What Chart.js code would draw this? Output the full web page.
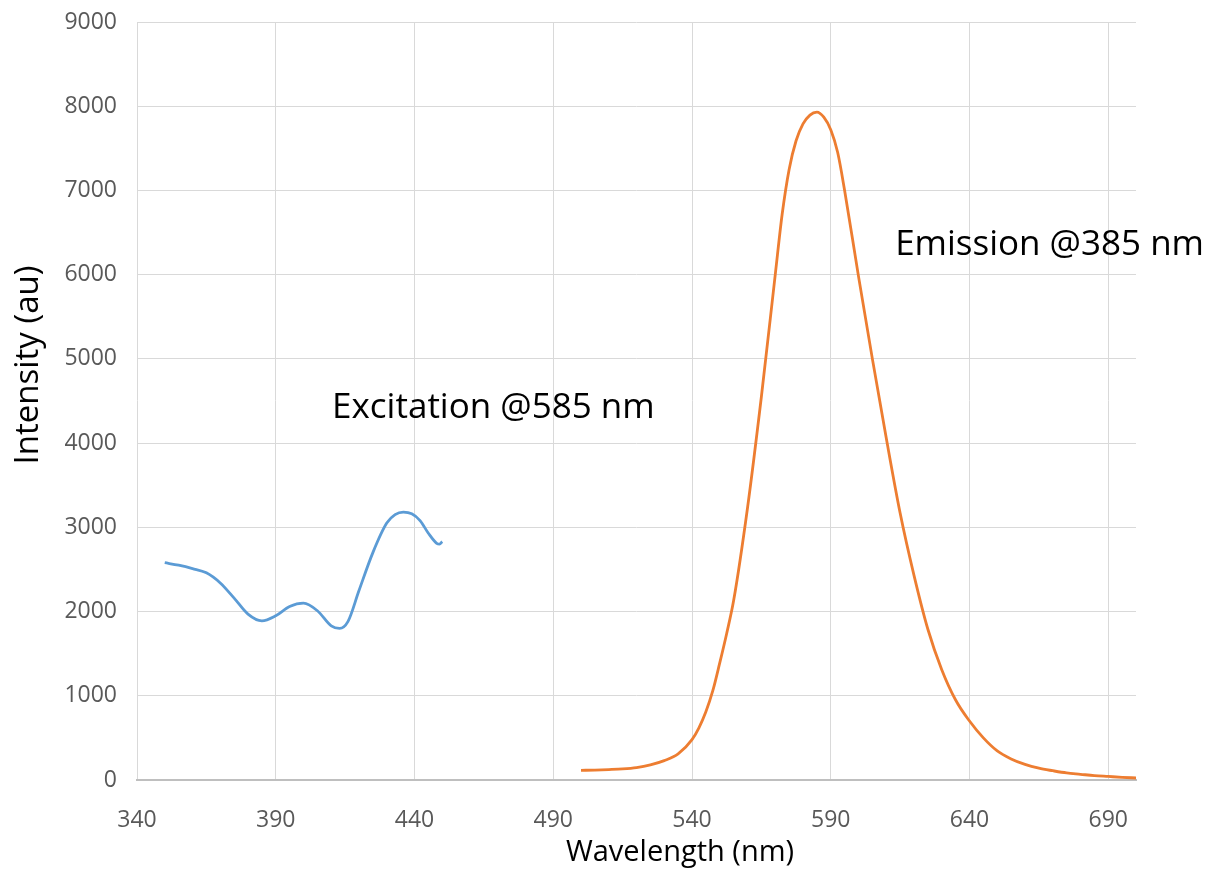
<!DOCTYPE html>
<html>
<head>
<meta charset="utf-8">
<script src="https://cdn.jsdelivr.net/npm/chart.js@4"></script>
<style>
  body { margin: 0; background: #fff; }
  #wrap { width: 1207px; height: 886px; position: relative; }
</style>
</head>
<body>
<div id="wrap"><canvas id="spectrum"></canvas></div>
<script>
// Excitation / emission spectra
const excitationNm = [350, 355, 360, 365, 370, 375, 380, 385, 390, 395, 400, 405, 410, 413, 416, 420, 425, 430, 433, 436, 439, 442, 445, 448, 449, 450];
const excitationVal = [2580, 2550, 2510, 2460, 2340, 2160, 1970, 1890, 1950, 2060, 2100, 2010, 1830, 1800, 1880, 2250, 2700, 3050, 3150, 3180, 3160, 3080, 2930, 2810, 2800, 2830];

const emissionNm = [500, 505, 510, 515, 520, 525, 530, 535, 540, 542.5, 545, 547.5, 550, 552.5, 555, 560, 565, 570, 572.5, 575, 577.5, 580, 582.5, 585, 587.5, 590, 592.5, 595, 600, 605, 610, 615, 620, 625, 630, 635, 640, 645, 650, 655, 660, 665, 670, 675, 680, 685, 690, 695, 700];
const emissionVal = [115, 118, 124, 132, 148, 180, 230, 310, 480, 620, 810, 1060, 1390, 1740, 2130, 3230, 4550, 6000, 6720, 7250, 7590, 7790, 7895, 7930, 7870, 7720, 7450, 7000, 5980, 5000, 4060, 3170, 2430, 1790, 1310, 950, 700, 500, 345, 250, 185, 140, 110, 84, 68, 52, 42, 32, 24];

const xTicks = [340, 390, 440, 490, 540, 590, 640, 690];
const noteTexts = ["Excitation @585 nm", "Emission @385 nm"];
const noteAt = [[410.3, 4297], [613.2, 6231]];
const xTitle = "Wavelength (nm)";
const yTitle = "Intensity (au)";

const toPoints = (xs, ys) => xs.map((x, i) => ({ x: x, y: ys[i] }));

// free text labels plus the two axis titles
const notesPlugin = {
  id: "notes",
  afterDraw(chart) {
    const { ctx, scales } = chart;
    ctx.save();
    ctx.fillStyle = "#000";
    ctx.font = "35px 'Open Sans'";
    ctx.textAlign = "left";
    ctx.textBaseline = "alphabetic";
    noteTexts.forEach((t, i) => {
      ctx.fillText(t, scales.x.getPixelForValue(noteAt[i][0]), scales.y.getPixelForValue(noteAt[i][1]));
    });

    ctx.textAlign = "center";
    ctx.textBaseline = "middle";
    ctx.font = "29px 'Open Sans'";
    ctx.fillText(xTitle, 680, 853);
    ctx.font = "33px 'Open Sans'";
    ctx.translate(29, 365);
    ctx.rotate(-Math.PI / 2);
    ctx.fillText(yTitle, 0, 0);
    ctx.restore();
  },
};

const ctx = document.getElementById("spectrum").getContext("2d");
new Chart(ctx, {
  type: "line",
  data: {
    datasets: [
      {
        label: "Excitation",
        data: toPoints(excitationNm, excitationVal),
        borderColor: "#5b9bd5",
        borderWidth: 2.8,
        pointRadius: 0,
        cubicInterpolationMode: "monotone",
      },
      {
        label: "Emission",
        data: toPoints(emissionNm, emissionVal),
        borderColor: "#ed7d31",
        borderWidth: 2.8,
        pointRadius: 0,
        cubicInterpolationMode: "monotone",
      },
    ],
  },
  options: {
    responsive: true,
    maintainAspectRatio: false,
    animation: false,
    layout: { padding: { top: 22, right: 71, left: 0, bottom: 0 } },
    plugins: {
      legend: { display: false },
      tooltip: { enabled: false },
    },
    scales: {
      x: {
        type: "linear",
        min: 340,
        max: 700,
        afterBuildTicks: (scale) => {
          scale.ticks = xTicks.map((v) => ({ value: v }));
        },
        afterFit: (scale) => {
          scale.height = 106;
        },
        grid: { color: "#d9d9d9", lineWidth: 1, drawTicks: false },
        border: { color: "#bfbfbf", width: 2 },
        ticks: {
          color: "#595959",
          font: { family: "'Open Sans'", size: 23 },
          padding: 27,
          maxRotation: 0,
          callback: (v) => String(v),
        },
      },
      y: {
        min: 0,
        max: 9000,
        afterFit: (scale) => {
          scale.width = 137;
          scale.paddingTop = 0;
          scale.paddingBottom = 0;
        },
        grid: { color: "#d9d9d9", lineWidth: 1, drawTicks: false },
        border: { display: false },
        ticks: {
          stepSize: 1000,
          color: "#595959",
          font: { family: "'Open Sans'", size: 23 },
          padding: 20,
          callback: (v) => String(v),
        },
      },
    },
  },
  plugins: [notesPlugin],
});
</script>
</body>
</html>
